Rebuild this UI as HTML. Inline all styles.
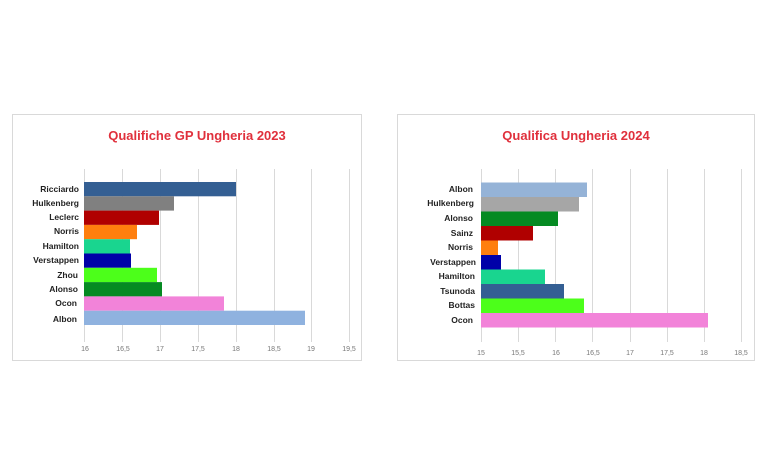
<!DOCTYPE html><html><head><style>body{margin:0;background:#fff}svg{display:block}text{font-family:"Liberation Sans",sans-serif}</style></head><body>
<svg width="772" height="469" xmlns="http://www.w3.org/2000/svg">
<rect x="12.5" y="114.5" width="349" height="246" fill="#fff" stroke="#d9d9d9"/>
<rect x="397.5" y="114.5" width="357" height="246" fill="#fff" stroke="#d9d9d9"/>
<text x="197" y="140" text-anchor="middle" font-size="13" font-weight="bold" fill="#e0303c">Qualifiche GP Ungheria 2023</text>
<text x="576" y="140" text-anchor="middle" font-size="13" font-weight="bold" fill="#e0303c">Qualifica Ungheria 2024</text>
<g stroke="#d9d9d9" stroke-width="1">
<line x1="84.5" y1="169" x2="84.5" y2="342"/><line x1="122.5" y1="169" x2="122.5" y2="342"/><line x1="160.5" y1="169" x2="160.5" y2="342"/><line x1="198.5" y1="169" x2="198.5" y2="342"/><line x1="236.5" y1="169" x2="236.5" y2="342"/><line x1="274.5" y1="169" x2="274.5" y2="342"/><line x1="311.5" y1="169" x2="311.5" y2="342"/><line x1="349.5" y1="169" x2="349.5" y2="342"/>
<line x1="481.5" y1="169" x2="481.5" y2="342"/><line x1="518.5" y1="169" x2="518.5" y2="342"/><line x1="555.5" y1="169" x2="555.5" y2="342"/><line x1="592.5" y1="169" x2="592.5" y2="342"/><line x1="630.5" y1="169" x2="630.5" y2="342"/><line x1="667.5" y1="169" x2="667.5" y2="342"/><line x1="704.5" y1="169" x2="704.5" y2="342"/><line x1="741.5" y1="169" x2="741.5" y2="342"/>
</g>
<g font-size="7" fill="#777" text-anchor="middle">
<text x="85" y="351">16</text><text x="123" y="351">16,5</text><text x="160" y="351">17</text><text x="198" y="351">17,5</text><text x="236" y="351">18</text><text x="274" y="351">18,5</text><text x="311" y="351">19</text><text x="349" y="351">19,5</text>
<text x="481" y="355">15</text><text x="518" y="355">15,5</text><text x="556" y="355">16</text><text x="593" y="355">16,5</text><text x="630" y="355">17</text><text x="667" y="355">17,5</text><text x="704" y="355">18</text><text x="741" y="355">18,5</text>
</g>
<g>
<rect x="84" y="182" width="152" height="14.3" fill="#345f93"/>
<rect x="84" y="196.3" width="90" height="14.3" fill="#808080"/>
<rect x="84" y="210.6" width="75" height="14.3" fill="#b00000"/>
<rect x="84" y="224.9" width="53" height="14.3" fill="#ff7f0e"/>
<rect x="84" y="239.2" width="46" height="14.3" fill="#19d58f"/>
<rect x="84" y="253.5" width="47" height="14.3" fill="#0000a8"/>
<rect x="84" y="267.8" width="73" height="14.3" fill="#4cff1a"/>
<rect x="84" y="282.1" width="78" height="14.3" fill="#058a22"/>
<rect x="84" y="296.4" width="140" height="14.3" fill="#f283d9"/>
<rect x="84" y="310.7" width="221" height="14.3" fill="#8fb2df"/>
</g>
<g>
<rect x="481" y="182.5" width="106" height="14.5" fill="#95b3d7"/>
<rect x="481" y="197" width="98" height="14.5" fill="#a6a6a6"/>
<rect x="481" y="211.5" width="77" height="14.5" fill="#058a22"/>
<rect x="481" y="226" width="52" height="14.5" fill="#b00000"/>
<rect x="481" y="240.5" width="17" height="14.5" fill="#ff7f0e"/>
<rect x="481" y="255" width="20" height="14.5" fill="#0000a8"/>
<rect x="481" y="269.5" width="64" height="14.5" fill="#19d58f"/>
<rect x="481" y="284" width="83" height="14.5" fill="#345f93"/>
<rect x="481" y="298.5" width="103" height="14.5" fill="#4cff1a"/>
<rect x="481" y="313" width="227" height="14.5" fill="#f283d9"/>
</g>
<g font-size="8.5" font-weight="bold" fill="#222" text-anchor="end">
<text x="79" y="192">Ricciardo</text><text x="79" y="206">Hulkenberg</text><text x="79" y="220">Leclerc</text><text x="79" y="234">Norris</text><text x="79" y="249">Hamilton</text><text x="79" y="263">Verstappen</text><text x="78" y="278">Zhou</text><text x="78" y="292">Alonso</text><text x="77" y="306">Ocon</text><text x="77" y="322">Albon</text>
<text x="473" y="192">Albon</text><text x="474" y="206">Hulkenberg</text><text x="473" y="221">Alonso</text><text x="473" y="236">Sainz</text><text x="473" y="250">Norris</text><text x="476" y="265">Verstappen</text><text x="475" y="279">Hamilton</text><text x="475" y="294">Tsunoda</text><text x="475" y="308">Bottas</text><text x="473" y="323">Ocon</text>
</g>
</svg></body></html>
